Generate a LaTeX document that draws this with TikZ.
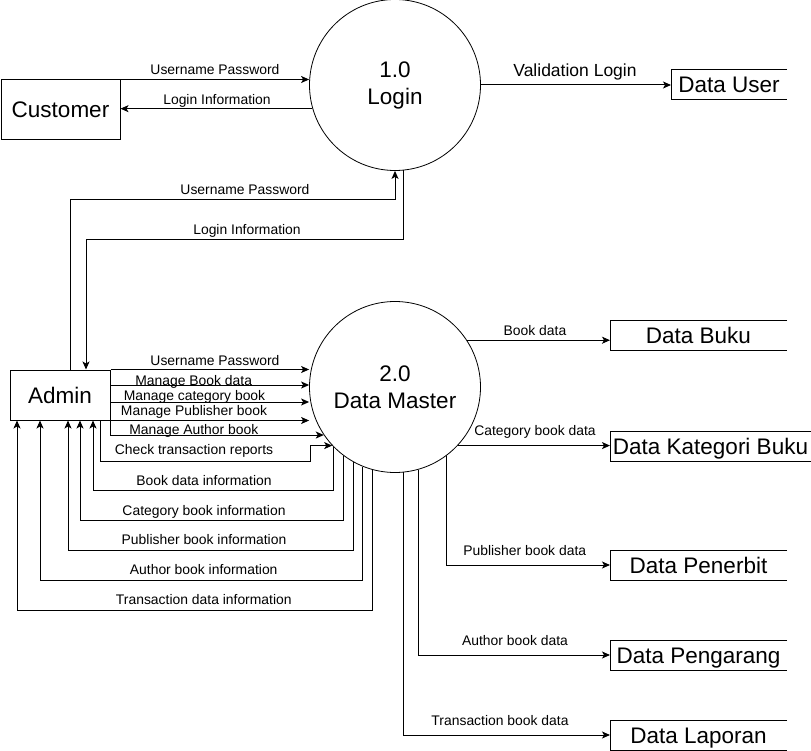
\documentclass[tikz,border=0pt]{standalone}
\usepackage{fontspec}
\setmainfont{Liberation Sans}
\usetikzlibrary{arrows.meta}
\begin{document}
\begin{tikzpicture}[x=1pt,y=-1pt,
  every node/.style={inner sep=0pt},
  big/.style={font=\fontsize{22.5}{27}\selectfont},
  lbl/.style={font=\fontsize{13.9}{16}\selectfont, text height=10pt, text depth=0pt},
  proc/.style={draw, circle, minimum size=171pt, align=center, big, line width=0.8pt},
  ent/.style={draw, rectangle, big, line width=1pt},
  store/.style={rectangle, big, minimum height=30pt, outer sep=0pt, text height=16pt, text depth=0pt},
  flow/.style={line width=1pt, -{Stealth[length=8pt,width=7pt,inset=2pt]}},
  side/.style={line width=1pt}
]
\useasboundingbox (0,0) rectangle (811,751);

% processes, entities, stores
\node[proc] (login) at (395,85) {1.0\\Login};
\node[proc] (dm) at (395,387) {2.0\\Data Master};
\node[ent, minimum width=119pt, minimum height=60pt] (cust) at (60.5,110) {Customer};
\node[ent, minimum width=100pt, minimum height=50pt] (admin) at (60,395) {Admin};
\node[store, minimum width=116pt] (user) at (729,85) {Data User};
\node[store, minimum width=177pt] (buku) at (698.5,335) {Data Buku};
\node[store, minimum width=201pt] (kat) at (710.5,446) {Data Kategori Buku};
\node[store, minimum width=177pt] (pen) at (698.5,565) {Data Penerbit};
\node[store, minimum width=177pt] (peng) at (698.5,655) {Data Pengarang};
\node[store, minimum width=177pt] (lap) at (698.5,735) {Data Laporan};
\foreach \s in {user,buku,kat,pen,peng,lap}
  \draw[side] (\s.north east) -- (\s.north west) -- (\s.south west) -- (\s.south east);

% customer <-> login
\draw[flow] (cust.north east) -- (cust.north east -| login.west);
\draw[flow] (login.196.4) -- (login.196.4 -| cust.east);
\node[lbl] (t1) at (215,70) {Username Password};
\node[lbl] (t2) at (217,100) {Login Information};

% login -> data user
\draw[flow] (login.east) -- (user.west);
\node[lbl, font=\fontsize{17.5}{20}\selectfont, text height=12.6pt] (t3) at (575,70) {Validation Login};

% admin <-> login
\coordinate (a1) at (70,200);
\draw[flow] (admin.north -| a1) -- (a1) -| (login.south);
\node[lbl] (t4) at (245,190) {Username Password};
\coordinate (a2) at (86,240);
\draw[flow] (login.276.8) |- (a2) -- (a2 |- admin.north);
\node[lbl] (t5) at (247,230) {Login Information};

% admin -> data master
\draw[flow] (admin.north east) -- (admin.north east -| dm.west);
\draw[flow] ([yshift=10pt]admin.east) -- ([yshift=10pt]admin.east -| dm.west);
\draw[flow] ([yshift=-7pt]admin.east) -- ([yshift=-7pt]admin.east -| dm.west);
\draw[flow] (admin.south east) -- (admin.south east -| dm.west);
\draw[flow] (admin.south east) |- (dm.214.7);
\coordinate (c1) at (310,461);
\draw[flow] ([xshift=40pt]admin.south) |- (c1) |- (dm.223.3);
\node[lbl] (t6) at (215,360.7) {Username Password};
\node[lbl] (t7) at (193.7,380) {Manage Book data};
\node[lbl] (t8) at (194.5,395) {Manage category book};
\node[lbl] (t9) at (194,410) {Manage Publisher book};
\node[lbl] (t10) at (193.8,429.3) {Manage Author book};
\node[lbl] (t11) at (194,449.3) {Check transaction reports};

% data master -> admin
\coordinate (r1) at (93,490);
\coordinate (r2) at (80,520);
\coordinate (r3) at (68,550);
\coordinate (r4) at (40,580);
\coordinate (r5) at (17,610);
\draw[flow] (dm.224.83) |- (r1) -- (r1 |- admin.south);
\draw[flow] (dm.233.63) |- (r2) -- (r2 |- admin.south);
\draw[flow] (dm.241.53) |- (r3) -- (r3 |- admin.south);
\draw[flow] (dm.248.87) |- (r4) -- (r4 |- admin.south);
\draw[flow] (dm.255.87) |- (r5) -- (r5 |- admin.south);
\node[lbl] (t12) at (204,480) {Book data information};
\node[lbl] (t13) at (204,510) {Category book information};
\node[lbl] (t14) at (204,539.3) {Publisher book information};
\node[lbl] (t15) at (203.7,569.3) {Author book information};
\node[lbl] (t16) at (203.8,599.3) {Transaction data information};

% data master -> stores
\draw[flow] (dm.33.9) -- (dm.33.9 -| buku.west);
\draw[flow] (dm.317.6) -- (dm.317.6 -| kat.west);
\draw[flow] (dm.307.21) |- (pen.west);
\draw[flow] (dm.286.9) |- (peng.west);
\draw[flow] (dm.276.01) |- (lap.west);
\node[lbl] (t17) at (535,330) {Book data};
\node[lbl] (t18) at (535,430) {Category book data};
\node[lbl] (t19) at (524.7,550) {Publisher book data};
\node[lbl] (t20) at (515,640) {Author book data};
\node[lbl] (t21) at (500,720) {Transaction book data};
\end{tikzpicture}
\end{document}
